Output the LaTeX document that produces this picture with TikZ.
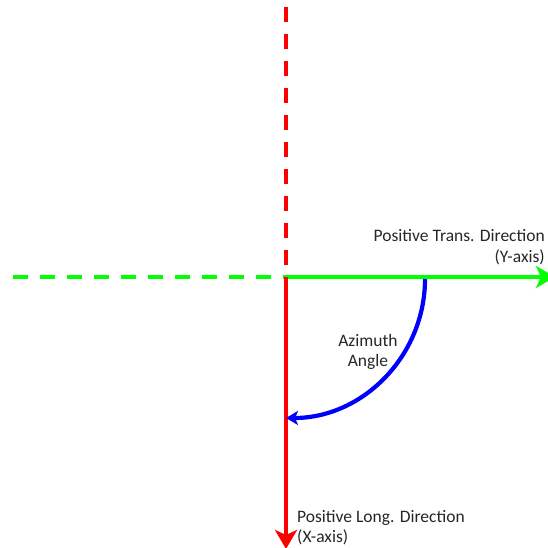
\documentclass[tikz,border=0pt]{standalone}
\usepackage{fontspec}
\setmainfont{Carlito}
\usetikzlibrary{arrows.meta}
\begin{document}
\begin{tikzpicture}[x=1pt,y=-1pt,
  axisline/.style={line width=4pt},
  dashline/.style={line width=4pt,dash pattern=on 15pt off 12pt},
  lbl/.style={font=\fontsize{17.5}{21}\selectfont,inner sep=0pt,text=black!85}]
\useasboundingbox (0,0) rectangle (548,548);
\begin{scope}
\clip (0,0) rectangle (548,548);
\coordinate (O) at (286,277);
\coordinate (top) at (286,7);
\coordinate (left) at (13,277);
\coordinate (xend) at (286,549);
\coordinate (yend) at (555,277);
\coordinate (arcs) at (425,279);
\draw[dashline,red] (top) -- (O);
\draw[dashline,green] (left) -- (O);
\draw[axisline,green,-{Stealth[length=19pt,width=22pt,inset=5pt]}] (O) -- (yend);
\draw[axisline,red,-{Stealth[length=19pt,width=22pt,inset=5pt]}] (O) -- (xend);
\draw[line width=4.2pt,blue,-{Stealth[length=12pt,width=14pt,inset=3pt]}]
  (arcs) arc[start angle=0,end angle=90,x radius=139,y radius=139];
\end{scope}
\node[lbl,anchor=base east] (ylab1) at (545,241) {Positive Trans. Direction};
\node[lbl,anchor=base east] (ylab2) at (545,262) {(Y-axis)};
\node[lbl,anchor=base west] (xlab1) at (297,522) {Positive Long. Direction};
\node[lbl,anchor=base west] (xlab2) at (297,542) {(X-axis)};
\node[lbl,anchor=base] (az1) at (368,346) {Azimuth};
\node[lbl,anchor=base] (az2) at (368,366) {Angle};
\end{tikzpicture}
\end{document}
